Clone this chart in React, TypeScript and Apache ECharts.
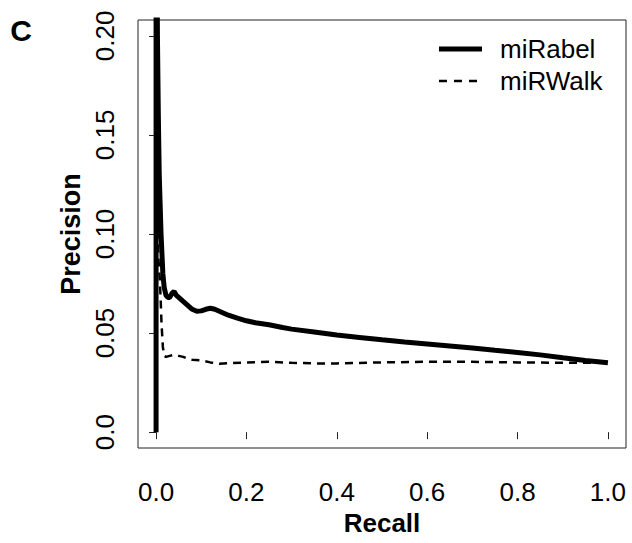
import React, { useEffect, useRef } from "react";
import * as echarts from "echarts";

const xTicks = [0, 0.2, 0.4, 0.6, 0.8, 1.0];
const xTickLabels = ["0.0", "0.2", "0.4", "0.6", "0.8", "1.0"];
const yTicks = [0, 0.05, 0.1, 0.15, 0.2];
const yTickLabels = ["0.0", "0.05", "0.10", "0.15", "0.20"];

const seriesNames = ["miRabel", "miRWalk"];

const miRabelRecall = [
  0, 0, 0.001, 0.002, 0.003, 0.005, 0.006, 0.007, 0.009, 0.011, 0.013, 0.015,
  0.018, 0.022, 0.026, 0.03, 0.035, 0.04, 0.045, 0.05, 0.06, 0.07, 0.08, 0.09,
  0.1, 0.11, 0.12, 0.13, 0.14, 0.16, 0.18, 0.2, 0.22, 0.25, 0.28, 0.3, 0.35,
  0.4, 0.45, 0.5, 0.55, 0.6, 0.65, 0.7, 0.75, 0.8, 0.85, 0.9, 0.95, 1.0,
];
const miRabelPrecision = [
  0, 0.5, 0.33, 0.25, 0.2, 0.16, 0.145, 0.13, 0.115, 0.1, 0.09, 0.08, 0.073,
  0.069, 0.068, 0.068, 0.07, 0.071, 0.069, 0.068, 0.066, 0.064, 0.062,
  0.061, 0.0612, 0.062, 0.0625, 0.062, 0.061, 0.059, 0.0575, 0.0562, 0.0552,
  0.0542, 0.0528, 0.052, 0.0505, 0.049, 0.0478, 0.0466, 0.0455, 0.0445,
  0.0435, 0.0425, 0.0413, 0.0402, 0.039, 0.0375, 0.0362, 0.035,
];

const miRWalkRecall = [
  0.001, 0.003, 0.005, 0.008, 0.01, 0.012, 0.015, 0.018, 0.022, 0.03, 0.04,
  0.05, 0.06, 0.07, 0.08, 0.1, 0.12, 0.14, 0.16, 0.2, 0.25, 0.3, 0.35, 0.4,
  0.5, 0.6, 0.7, 0.8, 0.9, 1.0,
];
const miRWalkPrecision = [
  0.13, 0.1, 0.088, 0.078, 0.068, 0.055, 0.043, 0.0385, 0.038, 0.0385, 0.039,
  0.0385, 0.038, 0.037, 0.0365, 0.0362, 0.0352, 0.0345, 0.0348, 0.0352,
  0.0355, 0.035, 0.0347, 0.0347, 0.0352, 0.0355, 0.0355, 0.0352, 0.035,
  0.035,
];

const FONT = "'Liberation Sans', Arial, Helvetica, sans-serif";

function labelFor(v: number, ticks: number[], labels: string[]) {
  for (let i = 0; i < ticks.length; i++) {
    if (Math.abs(v - ticks[i]) < 1e-9) return labels[i];
  }
  return "";
}

export default function App() {
  const ref = useRef<HTMLDivElement>(null);
  useEffect(() => {
    if (!ref.current) return;
    const chart = echarts.init(ref.current, null, { renderer: "svg" });
    const solidData = miRabelRecall.map((x, i) => [x, miRabelPrecision[i]]);
    const dashData = miRWalkRecall.map((x, i) => [x, miRWalkPrecision[i]]);
    chart.setOption({
      animation: false,
      backgroundColor: "#fff",
      grid: {
        left: 138,
        top: 20,
        width: 488,
        height: 428,
        show: true,
        borderColor: "#222",
        borderWidth: 1,
        backgroundColor: "transparent",
      },
      xAxis: {
        type: "value",
        min: -0.04,
        max: 1.04,
        splitLine: { show: false },
        axisLine: { show: false },
        axisTick: {
          show: true,
          customValues: xTicks,
          length: 7,
          lineStyle: { color: "#222", width: 1 },
        },
        axisLabel: {
          customValues: xTicks,
          formatter: (v: number) => labelFor(v, xTicks, xTickLabels),
          fontSize: 26,
          fontFamily: FONT,
          color: "#000",
          margin: 31,
          showMinLabel: true,
          showMaxLabel: true,
        },
      },
      yAxis: {
        type: "value",
        min: -0.008,
        max: 0.208,
        splitLine: { show: false },
        axisLine: { show: false },
        axisTick: {
          show: true,
          customValues: yTicks,
          length: 7,
          lineStyle: { color: "#222", width: 1 },
        },
        axisLabel: {
          customValues: yTicks,
          formatter: (v: number) => labelFor(v, yTicks, yTickLabels),
          fontSize: 26,
          fontFamily: FONT,
          color: "#000",
          rotate: 90,
          margin: 20,
          showMinLabel: true,
          showMaxLabel: true,
        },
      },
      series: [
        {
          name: seriesNames[0],
          type: "line",
          data: solidData,
          symbol: "none",
          showSymbol: false,
          clip: true,
          lineStyle: { color: "#000", width: 5, type: "solid" },
          z: 3,
        },
        {
          name: seriesNames[1],
          type: "line",
          data: dashData,
          symbol: "none",
          showSymbol: false,
          clip: true,
          lineStyle: { color: "#000", width: 2.5, type: [8, 6] },
          z: 2,
        },
      ],
      graphic: [
        {
          type: "text",
          x: 21,
          y: 30,
          style: {
            text: "C",
            fontSize: 30,
            fontWeight: "bold",
            fontFamily: FONT,
            fill: "#000",
            align: "center",
            verticalAlign: "middle",
          },
        },
        {
          type: "text",
          x: 382,
          y: 523,
          style: {
            text: "Recall",
            fontSize: 26,
            fontWeight: "bold",
            fontFamily: FONT,
            fill: "#000",
            align: "center",
            verticalAlign: "middle",
          },
        },
        {
          type: "text",
          x: 71,
          y: 234,
          rotation: Math.PI / 2,
          style: {
            text: "Precision",
            fontSize: 27,
            fontWeight: "bold",
            fontFamily: FONT,
            fill: "#000",
            align: "center",
            verticalAlign: "middle",
          },
        },
        {
          type: "line",
          shape: { x1: 439, y1: 49, x2: 482, y2: 49 },
          style: { stroke: "#000", lineWidth: 5 },
        },
        {
          type: "line",
          shape: { x1: 439, y1: 81, x2: 482, y2: 81 },
          style: { stroke: "#000", lineWidth: 2.5, lineDash: [8, 7] },
        },
        {
          type: "text",
          x: 500,
          y: 49,
          style: {
            text: seriesNames[0],
            fontSize: 26,
            fontFamily: FONT,
            fill: "#000",
            align: "left",
            verticalAlign: "middle",
          },
        },
        {
          type: "text",
          x: 500,
          y: 81,
          style: {
            text: seriesNames[1],
            fontSize: 26,
            fontFamily: FONT,
            fill: "#000",
            align: "left",
            verticalAlign: "middle",
          },
        },
      ],
    });
    return () => chart.dispose();
  }, []);
  return (
    <div
      ref={ref}
      style={{ position: "absolute", left: 0, top: 0, width: 632, height: 543 }}
    />
  );
}
